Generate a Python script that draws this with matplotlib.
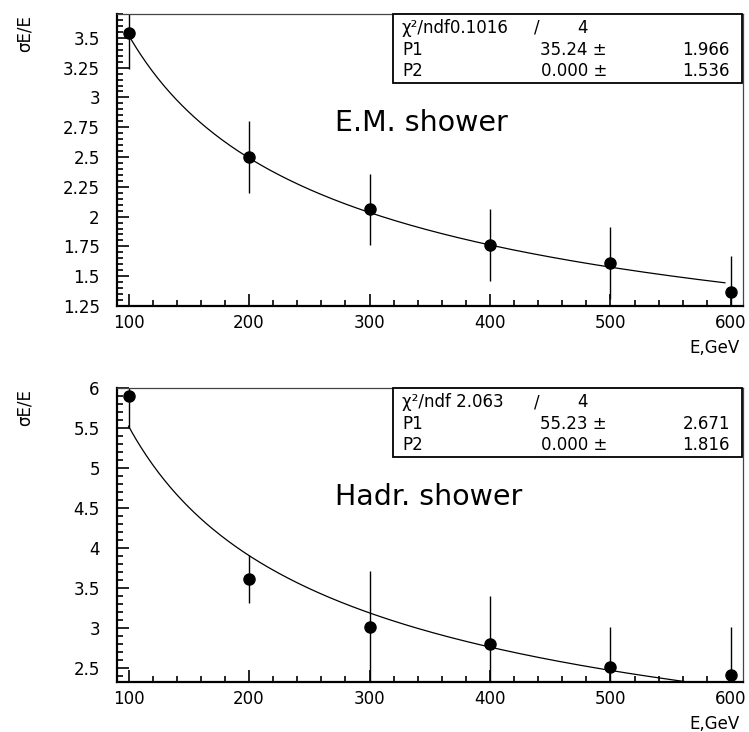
import numpy as np
import matplotlib
matplotlib.use("Agg")
import matplotlib.pyplot as plt
from matplotlib.ticker import MultipleLocator, FuncFormatter
from matplotlib.patches import Rectangle

# data
energy = [100, 200, 300, 400, 500, 600]
em_res = [3.54, 2.50, 2.06, 1.76, 1.61, 1.37]
em_err = [0.30, 0.30, 0.30, 0.30, 0.30, 0.30]
hadr_res = [5.90, 3.61, 3.01, 2.80, 2.51, 2.41]
hadr_err = [0.40, 0.30, 0.70, 0.60, 0.50, 0.60]

# fit results shown in the stat boxes
em_chi2, em_ndf = "0.1016", "4"
em_p1, em_p1_err = 35.24, "1.966"
em_p2, em_p2_err = "0.000", "1.536"
hadr_chi2, hadr_ndf = " 2.063", "4"
hadr_p1, hadr_p1_err = 55.23, "2.671"
hadr_p2, hadr_p2_err = "0.000", "1.816"

W, H = 749, 732
plt.rcParams['font.family'] = ['DejaVu Sans']
fig = plt.figure(figsize=(W / 100, H / 100), dpi=100)


def px(x, y):
    return x / W, 1 - y / H


def panel(top, bottom, res, err, p1, ylim, ymaj, ymin, name, chi2, ndf, p1err, p2, p2err):
    ax = fig.add_axes([116.5 / W, 1 - bottom / H, 626.5 / W, (bottom - top) / H])
    e_fit = np.linspace(100, 595, 300)
    ax.plot(e_fit, p1 / np.sqrt(e_fit), color='k', lw=0.9)
    ax.errorbar(energy, res, yerr=err, fmt='o', color='k', ms=8,
                elinewidth=1.0, capsize=0)
    ax.set_xlim(90, 610)
    ax.set_ylim(*ylim)
    ax.xaxis.set_major_locator(MultipleLocator(100))
    ax.xaxis.set_minor_locator(MultipleLocator(20))
    ax.yaxis.set_major_locator(MultipleLocator(ymaj))
    ax.yaxis.set_minor_locator(MultipleLocator(ymin))
    ax.yaxis.set_major_formatter(FuncFormatter(lambda v, p: '%g' % v))
    ax.tick_params(which='both', direction='in', top=False, right=False,
                   labelsize=12, width=1.2)
    ax.tick_params(which='major', length=8.6)
    ax.tick_params(which='minor', length=4.3)
    ax.tick_params(axis='y', pad=12)
    ax.tick_params(axis='x', pad=6)
    for s in ['left', 'bottom']:
        ax.spines[s].set_linewidth(1.6)
    for s in ['top', 'right']:
        ax.spines[s].set_linewidth(0.9)
        ax.spines[s].set_color('#444444')

    # labels
    fig.text(*px(25, top + 1), "σE/E", rotation=90, ha='center', va='top', fontsize=12)
    fig.text(*px(740, bottom + 42), "E,GeV", ha='right', va='center', fontsize=12)
    fig.text(*px(335, top + 109), name, ha='left', va='center', fontsize=20.5)

    # stat box
    bx0, by0 = px(393, top + 69)
    bx1, by1 = px(742, top)
    fig.add_artist(Rectangle((bx0, by0), bx1 - bx0, by1 - by0, transform=fig.transFigure,
                             facecolor='white', edgecolor='k', lw=1.3, zorder=5))
    rows = [top + 14, top + 36, top + 57]
    kw = dict(fontsize=12, va='center', zorder=6)
    fig.text(*px(402, rows[0]), "χ²/ndf" + chi2, ha='left', **kw)
    fig.text(*px(537, rows[0]), "/", ha='center', **kw)
    fig.text(*px(583, rows[0]), ndf, ha='center', **kw)
    fig.text(*px(402, rows[1]), "P1", ha='left', **kw)
    fig.text(*px(607, rows[1]), "%.2f ±" % p1, ha='right', **kw)
    fig.text(*px(730, rows[1]), p1err, ha='right', **kw)
    fig.text(*px(402, rows[2]), "P2", ha='left', **kw)
    fig.text(*px(607, rows[2]), p2 + " ±", ha='right', **kw)
    fig.text(*px(730, rows[2]), p2err, ha='right', **kw)
    return ax


panel(14, 306, em_res, em_err, em_p1, (1.25, 3.7), 0.25, 0.05,
      "E.M. shower", em_chi2, em_ndf, em_p1_err, em_p2, em_p2_err)
panel(388, 682, hadr_res, hadr_err, hadr_p1, (2.325, 6.0), 0.5, 0.1,
      "Hadr. shower", hadr_chi2, hadr_ndf, hadr_p1_err, hadr_p2, hadr_p2_err)

fig.savefig("out.png", dpi=100)
